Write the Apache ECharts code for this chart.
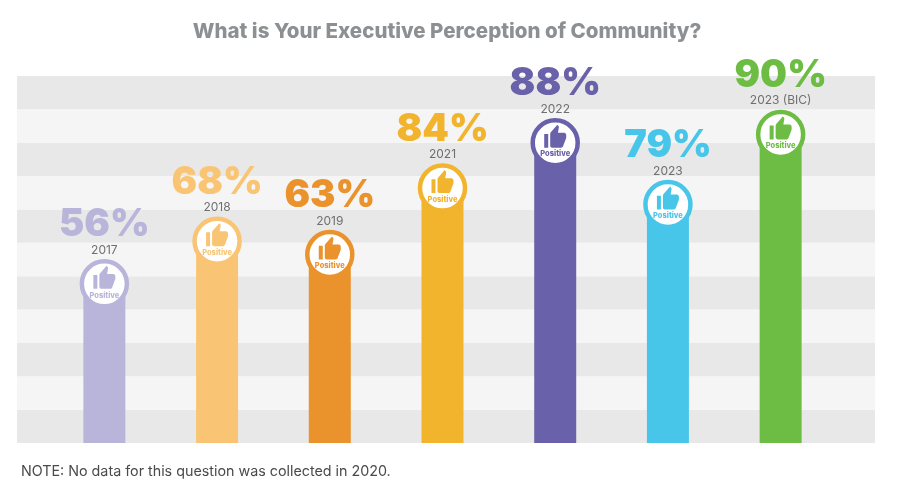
<!DOCTYPE html>
<html><head><meta charset="utf-8">
<style>html,body{margin:0;padding:0;background:#fff}#c{width:900px;height:498px}</style>
<script src="https://cdn.jsdelivr.net/npm/echarts@6/dist/echarts.min.js"></script>
</head><body><div id="c"></div>
<script>
const categories = ['2017','2018','2019','2021','2022','2023','2023 (BIC)'];
const percentLabels = ['56%','68%','63%','84%','88%','79%','90%'];
// Drawn bar heights (the source graphic's bars are not proportional to their labels)
const barLevels = [47.7,60.5,56.5,76.4,90,71.5,92.5];
const barColors = ['#b9b4da','#f9c575','#ea922c','#f2b32d','#6961a9','#48c6ea','#6dbd45'];
const thumb = 'M1 21h4V9H1v12zm22-11c0-1.1-.9-2-2-2h-6.31l.95-4.57.03-.32c0-.41-.17-.79-.44-1.06L14.17 1 7.59 7.59C7.22 7.95 7 8.45 7 9v10c0 1.1.9 2 2 2h9c.83 0 1.54-.5 1.84-1.22l3.02-7.05c.09-.23.14-.47.14-.73v-2z';

const chart = echarts.init(document.getElementById('c'), null, {renderer:'canvas'});
chart.setOption({
  animation:false,
  backgroundColor:'#fff',
  title:[
    {text:'What is Your Executive Perception of Community?',left:442,top:16,textAlign:'center',
     textStyle:{fontFamily:'Inter',fontWeight:800,fontSize:20.5,color:'#8d9092'}},
    {text:'NOTE: No data for this question was collected in 2020.',left:16,top:460,
     textStyle:{fontFamily:'Inter',fontWeight:400,fontSize:14.3,color:'#4a4a4a'}}
  ],
  grid:[
    {left:17,right:25,top:76,bottom:55},
    {left:48,width:789,top:76,bottom:55}
  ],
  xAxis:[
    {gridIndex:0,type:'value',show:false},
    {gridIndex:1,type:'category',data:categories,show:false}
  ],
  yAxis:[
    {gridIndex:0,type:'value',min:0,max:110,interval:10,axisLine:{show:false},axisTick:{show:false},axisLabel:{show:false},
     splitLine:{show:false},splitArea:{show:true,areaStyle:{color:['#e8e8e8','#f5f5f5']}}},
    {gridIndex:1,type:'value',min:0,max:110,interval:10,show:false,splitLine:{show:false}}
  ],
  series:[
    {type:'bar',xAxisIndex:1,yAxisIndex:1,barWidth:42,
     data:barLevels.map((v,i)=>({value:v,itemStyle:{color:barColors[i]}}))},
    {type:'custom',xAxisIndex:1,yAxisIndex:1,clip:false,z:5,
     data:barLevels.map((v,i)=>[i,v]),
     encode:{x:0,y:1},
     renderItem(params,api){
       const i=api.value(0);
       const [x,y]=api.coord([i,api.value(1)]);
       const col=barColors[i];
       return {type:'group',children:[
         {type:'circle',shape:{cx:x,cy:y,r:22.5},style:{fill:'#fff',stroke:col,lineWidth:4.5}},
         {type:'path',shape:{pathData:thumb,x:x-11,y:y-18,width:22,height:23,layout:'cover'},style:{fill:col}},
         {type:'text',x:x,y:y+11.5,style:{text:'Positive',fill:col,font:'800 7.5px Inter',align:'center',verticalAlign:'middle'}},
         {type:'text',x:x,y:y-33.5,style:{text:categories[i],fill:'#6f6f6f',font:'400 12px Inter',align:'center',verticalAlign:'middle'}},
         {type:'text',x:x,y:y-59,style:{text:percentLabels[i],fill:col,font:'900 38px Inter',align:'center',verticalAlign:'middle'}}
       ]};
     }}
  ]
});
</script></body></html>
